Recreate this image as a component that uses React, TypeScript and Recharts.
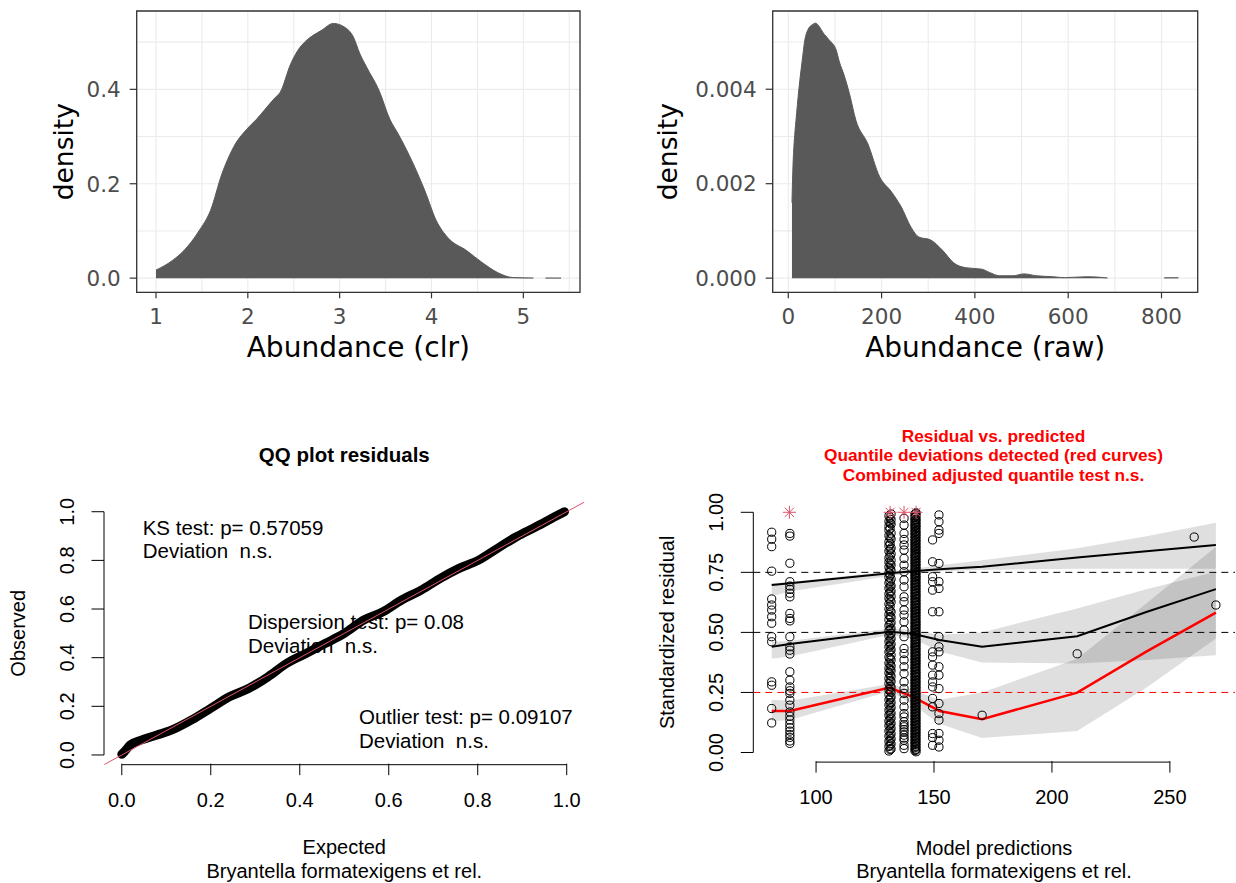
import React from 'react';
import {
  ComposedChart, Area, Line, Scatter, XAxis, YAxis, CartesianGrid,
  ReferenceLine, ReferenceArea, Customized,
} from 'recharts';

// ---------- Panel A: density of abundance (clr) ----------
const clrX = [1.0, 1.176, 1.302, 1.468, 1.593, 1.718, 1.843, 2.01, 2.097, 2.176, 2.3, 2.35, 2.469, 2.568, 2.635, 2.802, 2.931, 3.052, 3.149, 3.219, 3.294, 3.428, 3.548, 3.636, 3.802, 3.927, 4.052, 4.177, 4.385, 4.552, 4.718, 4.885, 5.11, 5.17, 5.24, 5.41];
const clrDensity = [0.017, 0.037, 0.058, 0.1, 0.143, 0.221, 0.277, 0.32, 0.337, 0.355, 0.383, 0.393, 0.455, 0.489, 0.503, 0.525, 0.5396, 0.532, 0.511, 0.476, 0.447, 0.398, 0.336, 0.306, 0.242, 0.1855, 0.122, 0.086, 0.058, 0.033, 0.012, 0.0013, 0.0003, null, 0.0003, 0.0002];
const clrXTicks = [1, 1.5, 2, 2.5, 3, 3.5, 4, 4.5, 5, 5.5];
const clrXMajor = [1, 2, 3, 4, 5];
const clrYTicks = [0, 0.1, 0.2, 0.3, 0.4, 0.5];
const clrYMajor = [0, 0.2, 0.4];

// ---------- Panel B: density of abundance (raw) ----------
const rawX = [7.9, 9.5, 14.3, 16.5, 22.7, 31, 34.3, 41.6, 52, 58, 77.5, 88, 102.7, 109.5, 119.6, 131, 145, 170.3, 195.6, 221, 242, 263, 280, 305, 330.6, 355, 381, 415, 431.5, 453, 482, 505, 532, 567, 592, 641, 684, 700, 806, 836];
const rawDensity = [0.0016, 0.0022, 0.0031, 0.00334, 0.004, 0.0047, 0.00497, 0.00525, 0.00537, 0.0054, 0.00516, 0.00504, 0.00483, 0.00458, 0.0043, 0.00391, 0.00334, 0.00285, 0.00215, 0.00183, 0.00151, 0.00108, 0.00087, 0.00081, 0.00059, 0.00032, 0.00022, 0.00019, 0.00012, 0.00005, 0.00005, 0.00009, 0.00005, 0.00003, 0.00001, 0.00003, 0.000005, null, 0.000008, 0.000008];
const rawXTicks = [0, 100, 200, 300, 400, 500, 600, 700, 800];
const rawXMajor = [0, 200, 400, 600, 800];
const rawYTicks = [0, 0.001, 0.002, 0.003, 0.004, 0.005];
const rawYMajor = [0, 0.002, 0.004];

// ---------- Panel C: QQ plot residuals ----------
const qqExpected = [0, 0.006, 0.019, 0.045, 0.079, 0.113, 0.157, 0.2, 0.243, 0.286, 0.329, 0.371, 0.415, 0.458, 0.5, 0.544, 0.587, 0.629, 0.673, 0.716, 0.758, 0.802, 0.845, 0.887, 0.931, 0.973, 0.995];
const qqObserved = [0.003, 0.014, 0.041, 0.062, 0.082, 0.103, 0.144, 0.192, 0.24, 0.274, 0.322, 0.377, 0.418, 0.459, 0.5, 0.555, 0.589, 0.637, 0.678, 0.726, 0.767, 0.801, 0.85, 0.897, 0.938, 0.979, 1.0];
const qqTicks = [0, 0.2, 0.4, 0.6, 0.8, 1.0];

// ---------- Panel D: residual vs predicted ----------
const predNodes = [81.2, 88.9, 131.2, 141, 152.3, 170.4, 210.7, 240, 269.5];
const q25Curve = [0.173, 0.173, 0.27, 0.232, 0.173, 0.139, 0.249, 0.42, 0.582];
const q50Curve = [0.44, 0.452, 0.503, 0.494, 0.468, 0.44, 0.484, 0.585, 0.68];
const q75Curve = [0.697, 0.705, 0.746, 0.755, 0.763, 0.773, 0.812, 0.838, 0.864];
const q25Lo = [0.13, 0.135, 0.255, 0.2, 0.12, 0.06, 0.09, 0.27, 0.475];
const q25Hi = [0.22, 0.215, 0.285, 0.26, 0.22, 0.25, 0.39, 0.62, 0.857];
const q50Lo = [0.39, 0.4, 0.49, 0.475, 0.42, 0.375, 0.37, 0.385, 0.405];
const q50Hi = [0.46, 0.465, 0.515, 0.51, 0.49, 0.5, 0.6, 0.68, 0.752];
const q75Lo = [0.65, 0.67, 0.735, 0.745, 0.755, 0.76, 0.765, 0.765, 0.765];
const q75Hi = [0.705, 0.71, 0.755, 0.765, 0.78, 0.8, 0.85, 0.9, 0.957];

const colAx = 81.2;
const colAy = [0.917, 0.888, 0.857, 0.755, 0.639, 0.614, 0.593, 0.565, 0.538, 0.482, 0.461, 0.294, 0.28, 0.183, 0.123];
const colBx = 88.9;
const colBy = [0.912, 0.901, 0.788, 0.711, 0.693, 0.679, 0.663, 0.648, 0.579, 0.558, 0.548, 0.482, 0.44, 0.426, 0.41, 0.336, 0.301, 0.273, 0.257, 0.246, 0.218, 0.197, 0.169, 0.151, 0.135, 0.118, 0.103, 0.089, 0.075, 0.063, 0.048, 0.038];
const colC1x = 130.9;
const colC1y = [0.985, 0.962, 0.941, 0.925, 0.903, 0.877, 0.86, 0.838, 0.81, 0.792, 0.771, 0.748, 0.73, 0.706, 0.684, 0.66, 0.642, 0.618, 0.597, 0.574, 0.553, 0.528, 0.507, 0.486, 0.462, 0.44, 0.418, 0.397, 0.372, 0.35, 0.331, 0.308, 0.287, 0.262, 0.241, 0.219, 0.198, 0.176, 0.155, 0.131, 0.112, 0.089, 0.068, 0.046, 0.025, 0.006];
const colC2x = 131.8;
const colC2y = [0.993, 0.97, 0.951, 0.913, 0.889, 0.851, 0.827, 0.8, 0.78, 0.757, 0.722, 0.694, 0.671, 0.65, 0.627, 0.585, 0.562, 0.541, 0.516, 0.496, 0.474, 0.451, 0.428, 0.405, 0.385, 0.36, 0.341, 0.317, 0.296, 0.272, 0.25, 0.23, 0.208, 0.187, 0.163, 0.143, 0.121, 0.1, 0.078, 0.057, 0.036, 0.015];
const colC3x = 131.4;
const colC3y = [0.978, 0.955, 0.932, 0.896, 0.868, 0.845, 0.818, 0.786, 0.764, 0.739, 0.712, 0.69, 0.667, 0.636, 0.61, 0.59, 0.566, 0.535, 0.512, 0.49, 0.468, 0.445, 0.423, 0.392, 0.367, 0.345, 0.323, 0.3, 0.277, 0.255, 0.226, 0.203, 0.181, 0.16, 0.137, 0.116, 0.094, 0.072, 0.05, 0.03, 0.012];
const colDx = 137.3;
const colDy = [0.975, 0.947, 0.912, 0.887, 0.864, 0.843, 0.808, 0.78, 0.753, 0.718, 0.69, 0.648, 0.628, 0.593, 0.572, 0.544, 0.51, 0.482, 0.433, 0.412, 0.385, 0.357, 0.329, 0.294, 0.266, 0.246, 0.218, 0.19, 0.162, 0.148, 0.128, 0.115, 0.107, 0.095, 0.086, 0.072, 0.06, 0.051, 0.03, 0.016];
const colEx = 142.4;
const colEy = [0.998, 0.986, 0.972, 0.961, 0.948, 0.937, 0.923, 0.911, 0.899, 0.886, 0.874, 0.861, 0.849, 0.836, 0.825, 0.812, 0.799, 0.787, 0.775, 0.762, 0.749, 0.737, 0.726, 0.713, 0.7, 0.688, 0.675, 0.662, 0.651, 0.638, 0.625, 0.613, 0.6, 0.588, 0.576, 0.563, 0.55, 0.538, 0.526, 0.513, 0.5, 0.489, 0.476, 0.463, 0.451, 0.438, 0.426, 0.413, 0.401, 0.388, 0.376, 0.364, 0.351, 0.338, 0.326, 0.314, 0.301, 0.289, 0.276, 0.264, 0.251, 0.239, 0.226, 0.214, 0.201, 0.189, 0.176, 0.164, 0.151, 0.139, 0.126, 0.114, 0.101, 0.089, 0.077, 0.064, 0.052, 0.039, 0.027, 0.014, 0.003];
const colE2x = 141.9;
const colE2y = [0.992, 0.979, 0.967, 0.954, 0.943, 0.93, 0.917, 0.905, 0.892, 0.88, 0.868, 0.855, 0.843, 0.83, 0.818, 0.806, 0.793, 0.781, 0.768, 0.756, 0.743, 0.731, 0.719, 0.706, 0.694, 0.681, 0.669, 0.657, 0.644, 0.632, 0.619, 0.606, 0.594, 0.582, 0.569, 0.557, 0.544, 0.532, 0.519, 0.507, 0.494, 0.482, 0.47, 0.457, 0.444, 0.432, 0.419, 0.407, 0.394, 0.382, 0.37, 0.357, 0.345, 0.332, 0.32, 0.307, 0.295, 0.283, 0.27, 0.258, 0.245, 0.233, 0.22, 0.208, 0.195, 0.183, 0.17, 0.158, 0.145, 0.133, 0.12, 0.108, 0.095, 0.083, 0.07, 0.058, 0.045, 0.033, 0.02, 0.008];
const colE3x = 142.2;
const colE3y = [0.995, 0.982, 0.97, 0.957, 0.945, 0.934, 0.92, 0.908, 0.895, 0.883, 0.871, 0.858, 0.846, 0.833, 0.821, 0.809, 0.796, 0.784, 0.771, 0.759, 0.746, 0.734, 0.722, 0.709, 0.697, 0.684, 0.672, 0.66, 0.647, 0.635, 0.622, 0.61, 0.597, 0.585, 0.572, 0.56, 0.547, 0.535, 0.522, 0.51, 0.497, 0.485, 0.473, 0.46, 0.448, 0.435, 0.423, 0.41, 0.398, 0.385, 0.373, 0.36, 0.348, 0.335, 0.323, 0.311, 0.298, 0.286, 0.273, 0.261, 0.248, 0.236, 0.223, 0.211, 0.198, 0.186, 0.173, 0.161, 0.148, 0.136, 0.123, 0.111, 0.098, 0.086, 0.073, 0.061, 0.048, 0.036, 0.024, 0.011];
const colF1x = 149.4;
const colF1y = [0.885, 0.794, 0.732, 0.711, 0.676, 0.586, 0.419, 0.398, 0.364, 0.322, 0.294, 0.273, 0.225, 0.19, 0.079, 0.062, 0.03];
const colF2x = 152.1;
const colF2y = [0.989, 0.961, 0.926, 0.912, 0.787, 0.711, 0.683, 0.586, 0.482, 0.44, 0.419, 0.357, 0.322, 0.266, 0.204, 0.162, 0.135, 0.079, 0.051, 0.023];
const singlesX = [170.4, 210.7, 260.3, 269.5];
const singlesY = [0.155, 0.411, 0.897, 0.614];
const outlierX = [88.7, 131.4, 137.3, 142.4];
const outlierY = [1.0, 1.0, 1.0, 1.0];
const resXTicks = [100, 150, 200, 250];
const resYTicks = [0, 0.25, 0.5, 0.75, 1.0];

// ---------- built tables ----------
const clrData = clrX.map((x, i) => ({ x, y: clrDensity[i] }));
const rawData = rawX.map((x, i) => ({ x, y: rawDensity[i] }));
const qqData = qqExpected.map((x, i) => ({ x, y: qqObserved[i] }));
const resData = predNodes.map((x, i) => ({
  x,
  q25: q25Curve[i], q50: q50Curve[i], q75: q75Curve[i],
  b25: [q25Lo[i], q25Hi[i]], b50: [q50Lo[i], q50Hi[i]], b75: [q75Lo[i], q75Hi[i]],
}));
const col = (x: number, ys: number[]) => ys.map((y) => ({ x, y }));
const resPoints = [
  ...col(colAx, colAy), ...col(colBx, colBy), ...col(colC1x, colC1y), ...col(colC2x, colC2y), ...col(colC3x, colC3y),
  ...col(colDx, colDy), ...col(colEx, colEy), ...col(colE2x, colE2y), ...col(colE3x, colE3y),
  ...col(colF1x, colF1y), ...col(colF2x, colF2y),
  ...singlesX.map((x, i) => ({ x, y: singlesY[i] })),
];
const outliers = outlierX.map((x, i) => ({ x, y: outlierY[i] }));

const GG_FONT = '"DejaVu Sans", sans-serif';
const R_FONT = '"Liberation Sans", Arial, sans-serif';

const isIn = (arr: number[], v: number) => arr.some((m) => Math.abs(m - v) < 1e-9);

const ggXTick = (major: number[], fmt: (v: number) => string) => (props: any) => {
  const { x, y, payload } = props;
  if (!isIn(major, payload.value)) return <g />;
  return (
    <g>
      <line x1={x} x2={x} y1={y} y2={y + 6} stroke="#333333" strokeWidth={1.2} />
      <text x={x} y={y + 31.7} textAnchor="middle" fontSize={21.5} fontFamily={GG_FONT} fill="#4D4D4D">{fmt(payload.value)}</text>
    </g>
  );
};
const ggYTick = (major: number[], fmt: (v: number) => string) => (props: any) => {
  const { x, y, payload } = props;
  if (!isIn(major, payload.value)) return <g />;
  return (
    <g>
      <line x1={x - 7} x2={x} y1={y} y2={y} stroke="#333333" strokeWidth={1.2} />
      <text x={x - 16} y={y + 7.8} textAnchor="end" fontSize={21.5} fontFamily={GG_FONT} fill="#4D4D4D">{fmt(payload.value)}</text>
    </g>
  );
};
const rXTick = (fmt: (v: number) => string) => (props: any) => {
  const { x, y, payload } = props;
  return (
    <g>
      <line x1={x} x2={x} y1={y - 1} y2={y + 10.5} stroke="#000" strokeWidth={1} />
      <text x={x} y={y + 42} textAnchor="middle" fontSize={20} fontFamily={R_FONT} fill="#000">{fmt(payload.value)}</text>
    </g>
  );
};
const rYTick = (fmt: (v: number) => string) => (props: any) => {
  const { x, y, payload } = props;
  return (
    <g>
      <line x1={x - 12.5} x2={x} y1={y} y2={y} stroke="#000" strokeWidth={1} />
      <text transform={`translate(${x - 30.5},${y}) rotate(-90)`} textAnchor="middle" fontSize={20} fontFamily={R_FONT} fill="#000">{fmt(payload.value)}</text>
    </g>
  );
};

const circleShape = (p: any) => (
  <circle cx={p.cx} cy={p.cy} r={4.1} fill="none" stroke="#000" strokeWidth={1} />
);
const starShape = (p: any) => {
  const s = 6.5;
  const d = s * 0.707;
  return (
    <g stroke="#DF536B" strokeWidth={1}>
      <line x1={p.cx - s} x2={p.cx + s} y1={p.cy} y2={p.cy} />
      <line x1={p.cx} x2={p.cx} y1={p.cy - s} y2={p.cy + s} />
      <line x1={p.cx - d} x2={p.cx + d} y1={p.cy - d} y2={p.cy + d} />
      <line x1={p.cx - d} x2={p.cx + d} y1={p.cy + d} y2={p.cy - d} />
    </g>
  );
};

const Labels1 = () => (
  <g fontFamily={GG_FONT} fill="#000">
    <text x={358.3} y={356.5} textAnchor="middle" fontSize={28}>Abundance (clr)</text>
    <text transform="translate(72.5,151.7) rotate(-90)" textAnchor="middle" fontSize={26.5}>density</text>
  </g>
);
const Labels2 = () => (
  <g fontFamily={GG_FONT} fill="#000">
    <text x={367.2} y={356.5} textAnchor="middle" fontSize={28}>Abundance (raw)</text>
    <text transform="translate(58.7,151.7) rotate(-90)" textAnchor="middle" fontSize={26.5}>density</text>
  </g>
);
const Labels3 = () => (
  <g fontFamily={R_FONT} fill="#000">
    <text x={344.3} y={41.7} textAnchor="middle" fontSize={20.5} fontWeight="bold">QQ plot residuals</text>
    <text x={344.3} y={434.3} textAnchor="middle" fontSize={20}>Expected</text>
    <text x={344.3} y={458.3} textAnchor="middle" fontSize={20}>Bryantella formatexigens et rel.</text>
    <text transform="translate(24.9,213.3) rotate(-90)" textAnchor="middle" fontSize={20}>Observed</text>
    <text x={142.7} y={115} fontSize={20.5} xmlSpace="preserve">KS test: p= 0.57059</text>
    <text x={142.7} y={138.3} fontSize={20.5} xmlSpace="preserve">Deviation  n.s.</text>
    <text x={248} y={209.3} fontSize={20.5} xmlSpace="preserve">Dispersion test: p= 0.08</text>
    <text x={248} y={233.3} fontSize={20.5} xmlSpace="preserve">Deviation  n.s.</text>
    <text x={359} y={303.6} fontSize={20.5} xmlSpace="preserve">Outlier test: p= 0.09107</text>
    <text x={359} y={327.6} fontSize={20.5} xmlSpace="preserve">Deviation  n.s.</text>
  </g>
);
const Labels4 = () => (
  <g fontFamily={R_FONT} fill="#000">
    <text x={375.5} y={21.9} textAnchor="middle" fontSize={17.3} fontWeight="bold" fill="#FF0000">Residual vs. predicted</text>
    <text x={375.5} y={41.2} textAnchor="middle" fontSize={17.3} fontWeight="bold" fill="#FF0000">Quantile deviations detected (red curves)</text>
    <text x={375.5} y={60.5} textAnchor="middle" fontSize={17.3} fontWeight="bold" fill="#FF0000">Combined adjusted quantile test n.s.</text>
    <text x={376} y={435} textAnchor="middle" fontSize={20}>Model predictions</text>
    <text x={376} y={458.3} textAnchor="middle" fontSize={20}>Bryantella formatexigens et rel.</text>
    <text transform="translate(56.2,212.3) rotate(-90)" textAnchor="middle" fontSize={20}>Standardized residual</text>
  </g>
);

const clrDom: [number, number] = [0.79, 5.617];
const clrYDom: [number, number] = [-0.03, 0.566];
const rawDom: [number, number] = [-33.4, 877.6];
const rawYDom: [number, number] = [-0.0003, 0.005657];
const qqDom: [number, number] = [-0.04, 1.04];
const resDom: [number, number] = [73.4, 277.6];
const resYDom: [number, number] = [-0.04, 1.04];

export default function App() {
  return (
    <div style={{ position: 'absolute', left: 0, top: 0, width: 1236, height: 883, background: '#fff' }}>
      {/* Panel A */}
      <div style={{ position: 'absolute', left: 0, top: 0 }}>
        <ComposedChart width={618} height={400} data={clrData} margin={{ top: 11, right: 38, bottom: 67.7, left: 76.7 }}>
          <CartesianGrid stroke="#EBEBEB" strokeWidth={1.1} />
          <XAxis type="number" dataKey="x" domain={clrDom} ticks={clrXTicks} interval={0} allowDataOverflow
            tickSize={0} tickMargin={0} axisLine={false} tickLine={false} height={40}
            tick={ggXTick(clrXMajor, (v) => String(v))} />
          <YAxis type="number" domain={clrYDom} ticks={clrYTicks} interval={0} allowDataOverflow
            tickSize={0} tickMargin={0} axisLine={false} tickLine={false} width={60}
            tick={ggYTick(clrYMajor, (v) => v.toFixed(1))} />
          <Area dataKey="y" type="monotone" fill="#595959" fillOpacity={1} stroke="#595959" strokeWidth={1}
            isAnimationActive={false} connectNulls={false} dot={false} activeDot={false} />
          <ReferenceArea x1={clrDom[0]} x2={clrDom[1]} y1={clrYDom[0]} y2={clrYDom[1]} fill="none" fillOpacity={0}
            stroke="#333333" strokeWidth={1.3} ifOverflow="visible" />
          <Customized component={Labels1} />
        </ComposedChart>
      </div>
      {/* Panel B */}
      <div style={{ position: 'absolute', left: 618, top: 0 }}>
        <ComposedChart width={618} height={400} data={rawData} margin={{ top: 11, right: 38.3, bottom: 67.7, left: 94.7 }}>
          <CartesianGrid stroke="#EBEBEB" strokeWidth={1.1} />
          <XAxis type="number" dataKey="x" domain={rawDom} ticks={rawXTicks} interval={0} allowDataOverflow
            tickSize={0} tickMargin={0} axisLine={false} tickLine={false} height={40}
            tick={ggXTick(rawXMajor, (v) => String(v))} />
          <YAxis type="number" domain={rawYDom} ticks={rawYTicks} interval={0} allowDataOverflow
            tickSize={0} tickMargin={0} axisLine={false} tickLine={false} width={60}
            tick={ggYTick(rawYMajor, (v) => v.toFixed(3))} />
          <Area dataKey="y" type="monotone" fill="#595959" fillOpacity={1} stroke="#595959" strokeWidth={1}
            isAnimationActive={false} connectNulls={false} dot={false} activeDot={false} />
          <ReferenceArea x1={rawDom[0]} x2={rawDom[1]} y1={rawYDom[0]} y2={rawYDom[1]} fill="none" fillOpacity={0}
            stroke="#333333" strokeWidth={1.3} ifOverflow="visible" />
          <Customized component={Labels2} />
        </ComposedChart>
      </div>
      {/* Panel C */}
      <div style={{ position: 'absolute', left: 0, top: 420 }}>
        <ComposedChart width={618} height={463} data={qqData} margin={{ top: 82, right: 33.5, bottom: 78.3, left: 44 }}>
          <XAxis type="number" dataKey="x" domain={qqDom} ticks={qqTicks} interval={0} allowDataOverflow
            tickSize={0} tickMargin={0} axisLine={false} tickLine={false} height={40}
            tick={rXTick((v) => v.toFixed(1))} />
          <YAxis type="number" domain={qqDom} ticks={qqTicks} interval={0} allowDataOverflow
            tickSize={0} tickMargin={0} axisLine={false} tickLine={false} width={60}
            tick={rYTick((v) => v.toFixed(1))} />
          <ReferenceLine segment={[{ x: 0, y: -0.04 }, { x: 1, y: -0.04 }]} stroke="#000" strokeWidth={1} ifOverflow="visible" />
          <ReferenceLine segment={[{ x: -0.04, y: 0 }, { x: -0.04, y: 1 }]} stroke="#000" strokeWidth={1} ifOverflow="visible" />
          <Line dataKey="y" type="monotone" stroke="#000" strokeWidth={9} strokeLinecap="round" strokeLinejoin="round"
            dot={false} activeDot={false} isAnimationActive={false} />
          <Scatter data={[{ x: -0.04, y: -0.04 }, { x: 1.04, y: 1.04 }]} dataKey="y" line={{ stroke: '#DF536B', strokeWidth: 1 }}
            shape={() => <g />} isAnimationActive={false} />
          <Customized component={Labels3} />
        </ComposedChart>
      </div>
      {/* Panel D */}
      <div style={{ position: 'absolute', left: 618, top: 420 }}>
        <ComposedChart width={618} height={463} data={resData} margin={{ top: 82.7, right: 1, bottom: 80.9, left: 75.3 }}>
          <XAxis type="number" dataKey="x" domain={resDom} ticks={resXTicks} interval={0} allowDataOverflow
            tickSize={0} tickMargin={0} axisLine={false} tickLine={false} height={40}
            tick={rXTick((v) => String(v))} />
          <YAxis type="number" domain={resYDom} ticks={resYTicks} interval={0} allowDataOverflow
            tickSize={0} tickMargin={0} axisLine={false} tickLine={false} width={60}
            tick={rYTick((v) => v.toFixed(2))} />
          <ReferenceLine segment={[{ x: 100, y: -0.04 }, { x: 250, y: -0.04 }]} stroke="#000" strokeWidth={1} ifOverflow="visible" />
          <ReferenceLine segment={[{ x: 73.4, y: 0 }, { x: 73.4, y: 1 }]} stroke="#000" strokeWidth={1} ifOverflow="visible" />
          <Scatter data={resPoints} dataKey="y" shape={circleShape} isAnimationActive={false} />
          <ReferenceLine y={0.25} stroke="#FF0000" strokeWidth={1} strokeDasharray="7 5" />
          <ReferenceLine y={0.5} stroke="#000" strokeWidth={1} strokeDasharray="7 5" />
          <ReferenceLine y={0.75} stroke="#000" strokeWidth={1} strokeDasharray="7 5" />
          <Area dataKey="b25" type="linear" fill="#000" fillOpacity={0.125} stroke="none" isAnimationActive={false} dot={false} activeDot={false} />
          <Area dataKey="b50" type="linear" fill="#000" fillOpacity={0.125} stroke="none" isAnimationActive={false} dot={false} activeDot={false} />
          <Area dataKey="b75" type="linear" fill="#000" fillOpacity={0.125} stroke="none" isAnimationActive={false} dot={false} activeDot={false} />
          <Line dataKey="q75" type="linear" stroke="#000" strokeWidth={2} dot={false} activeDot={false} isAnimationActive={false} />
          <Line dataKey="q50" type="linear" stroke="#000" strokeWidth={2} dot={false} activeDot={false} isAnimationActive={false} />
          <Line dataKey="q25" type="linear" stroke="#FF0000" strokeWidth={2.5} dot={false} activeDot={false} isAnimationActive={false} />
          <Scatter data={outliers} dataKey="y" shape={starShape} isAnimationActive={false} />
          <Customized component={Labels4} />
        </ComposedChart>
      </div>
    </div>
  );
}
